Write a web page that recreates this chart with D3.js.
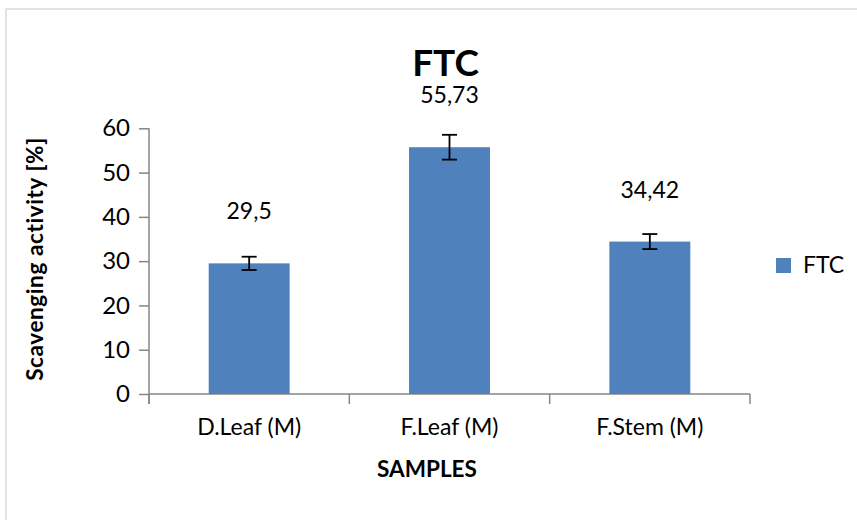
<!DOCTYPE html>
<html><head><meta charset="utf-8">
<script src="https://cdn.jsdelivr.net/npm/d3@7"></script>
<style>body{margin:0;background:#fff}svg{display:block}text{font-family:Lato,"Open Sans",sans-serif}</style>
</head><body>
<script>
const categories = ["D.Leaf (M)", "F.Leaf (M)", "F.Stem (M)"];
const values = [29.5, 55.73, 34.42];
const valueLabels = ["29,5", "55,73", "34,42"];
const errors = [1.5, 2.8, 1.7];
const yTicks = [0, 10, 20, 30, 40, 50, 60];
const seriesName = "FTC";
const title = "FTC";
const yTitle = "Scavenging activity [%]";
const xTitle = "SAMPLES";

(function () {
const W = 857, H = 520;
const svg = d3.select("body").append("svg").attr("width", W).attr("height", H);
svg.append("rect").attr("x", 6).attr("y", 9).attr("width", W + 10).attr("height", H + 10)
  .attr("fill", "none").attr("stroke", "#d9d9d9").attr("stroke-width", 1.5);

const pLeft = 149, pRight = 750, pTop = 128.3, pBottom = 394;
const x = d3.scaleBand().domain(categories).range([pLeft, pRight]).paddingInner(0.596).paddingOuter(0.298);
const y = d3.scaleLinear().domain([0, 60]).range([pBottom, pTop]);
const axisColor = "#868686";

// y axis
const ya = svg.append("g").attr("transform", `translate(${pLeft},0)`)
  .call(d3.axisLeft(y).tickValues(yTicks).tickSize(10).tickPadding(9).tickSizeOuter(0));
ya.select(".domain").attr("stroke", axisColor).attr("stroke-width", 1.5).attr("d", `M0,${pTop}V${pBottom + 10}`);
ya.selectAll(".tick line").attr("stroke", axisColor).attr("stroke-width", 1.5);
ya.selectAll(".tick text").attr("font-size", 24).attr("fill", "#000").attr("font-family", "Lato");

// x axis
const xa = svg.append("g").attr("transform", `translate(0,${pBottom})`)
  .call(d3.axisBottom(x).tickSize(0).tickPadding(25));
xa.select(".domain").attr("stroke", axisColor).attr("stroke-width", 1.5).attr("d", `M${pLeft},0H${pRight}`);
xa.selectAll(".tick text").attr("font-size", 23).attr("fill", "#000").attr("font-family", "Lato");
const boundaries = d3.range(categories.length + 1).map(i => pLeft + i * x.step());
xa.selectAll(".bound").data(boundaries).enter().append("line")
  .attr("x1", d => d).attr("x2", d => d).attr("y1", 0).attr("y2", 10)
  .attr("stroke", axisColor).attr("stroke-width", 1.5);

// bars
svg.selectAll(".bar").data(values).enter().append("rect")
  .attr("x", (d, i) => x(categories[i])).attr("width", x.bandwidth())
  .attr("y", d => y(d)).attr("height", d => pBottom - y(d)).attr("fill", "#4F81BD");

// error bars
const eb = svg.selectAll(".err").data(values).enter().append("g");
eb.each(function(d, i) {
  const g = d3.select(this), cx = x(categories[i]) + x.bandwidth() / 2;
  const y0 = y(d - errors[i]), y1 = y(d + errors[i]);
  g.append("line").attr("x1", cx).attr("x2", cx).attr("y1", y0).attr("y2", y1);
  g.append("line").attr("x1", cx - 7.5).attr("x2", cx + 7.5).attr("y1", y0).attr("y2", y0);
  g.append("line").attr("x1", cx - 7.5).attr("x2", cx + 7.5).attr("y1", y1).attr("y2", y1);
  g.selectAll("line").attr("stroke", "#000").attr("stroke-width", 1.8);
});

// value labels
svg.selectAll(".vl").data(values).enter().append("text")
  .attr("x", (d, i) => x(categories[i]) + x.bandwidth() / 2).attr("y", d => y(d) - 44)
  .attr("text-anchor", "middle").attr("font-size", 23).text((d, i) => valueLabels[i]);

// titles
svg.append("text").attr("x", 445.5).attr("y", 76).attr("text-anchor", "middle")
  .attr("font-size", 37).attr("font-weight", "bold").text(title);
svg.append("text").attr("x", 427).attr("y", 477).attr("text-anchor", "middle")
  .attr("font-size", 22.5).attr("font-weight", "bold").text(xTitle);
svg.append("text").attr("transform", `translate(43,259) rotate(-90)`).attr("text-anchor", "middle")
  .attr("font-size", 22.5).attr("font-weight", "bold").attr("letter-spacing", 0.6).text(yTitle);

// legend
svg.append("rect").attr("x", 776).attr("y", 258).attr("width", 15).attr("height", 15).attr("fill", "#4F81BD");
svg.append("text").attr("x", 803).attr("y", 273).attr("font-size", 23).text(seriesName);
})();
</script>
</body></html>
